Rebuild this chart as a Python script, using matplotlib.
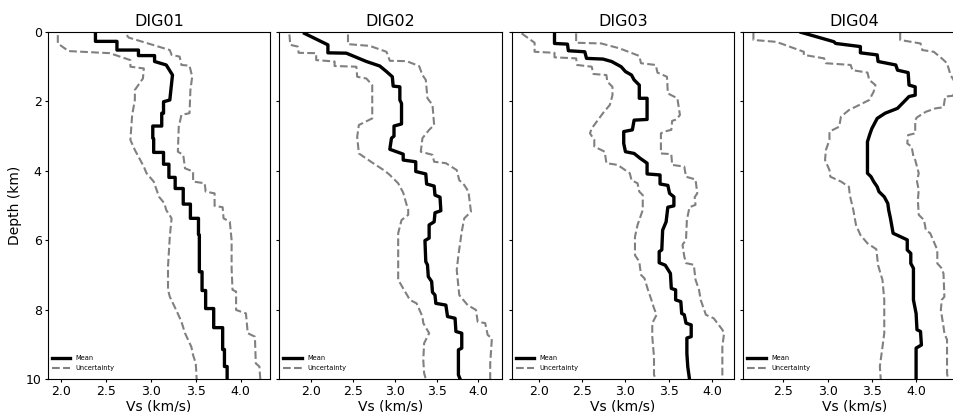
import numpy as np
import matplotlib
matplotlib.use('Agg')
import matplotlib.pyplot as plt
from matplotlib.ticker import MultipleLocator

# shear-wave velocity profiles: (depth km, Vs km/s) vertices
stations = ['DIG01', 'DIG02', 'DIG03', 'DIG04']

dig01_mean = [(0.07, 2.38), (0.27, 2.38), (0.27, 2.62), (0.52, 2.62), (0.52, 2.86), (0.68, 2.86),
              (0.68, 3.04), (0.85, 3.04), (0.95, 3.17), (1.24, 3.24), (1.96, 3.21), (2.01, 3.14),
              (2.34, 3.14), (2.34, 3.12), (2.71, 3.12), (2.71, 3.02), (3.06, 3.02), (3.08, 3.03),
              (3.47, 3.03), (3.47, 3.14), (3.81, 3.14), (3.81, 3.20), (4.19, 3.20), (4.19, 3.27),
              (4.51, 3.27), (4.51, 3.36), (4.96, 3.36), (4.96, 3.44), (5.37, 3.44), (5.37, 3.53),
              (5.83, 3.53), (5.85, 3.54), (6.91, 3.54), (6.91, 3.57), (7.45, 3.57), (7.45, 3.61),
              (7.97, 3.61), (7.97, 3.70), (8.52, 3.70), (8.52, 3.80), (9.15, 3.80), (9.15, 3.82),
              (9.64, 3.82), (9.64, 3.85), (10.0, 3.85)]
dig01_low = [(0.09, 1.96), (0.33, 1.96), (0.55, 2.08), (0.61, 2.54), (0.81, 2.77), (1.00, 2.77),
             (1.05, 2.92), (1.34, 2.91), (1.67, 2.82), (1.96, 2.82), (2.39, 2.79), (3.11, 2.77),
             (3.40, 2.82), (3.88, 2.92), (4.07, 2.95), (4.31, 3.03), (4.75, 3.09), (4.94, 3.15),
             (5.13, 3.17), (5.37, 3.23), (5.90, 3.21), (6.76, 3.19), (7.43, 3.19), (7.63, 3.21),
             (8.06, 3.29), (8.35, 3.34), (8.68, 3.38), (9.07, 3.45), (9.31, 3.47), (9.55, 3.50),
             (10.0, 3.51)]
dig01_up = [(0.09, 2.73), (0.16, 2.75), (0.52, 3.21), (0.66, 3.23), (0.71, 3.32), (0.95, 3.34),
            (0.97, 3.43), (1.29, 3.46), (1.67, 3.44), (2.34, 3.43), (2.39, 3.34), (2.73, 3.31),
            (3.45, 3.30), (3.54, 3.36), (3.93, 3.38), (4.02, 3.47), (4.31, 3.47), (4.36, 3.60),
            (4.60, 3.61), (4.65, 3.71), (5.01, 3.71), (5.05, 3.80), (5.37, 3.81), (5.47, 3.88),
            (6.00, 3.90), (6.81, 3.90), (7.43, 3.91), (7.48, 3.95), (8.01, 3.95), (8.11, 4.06),
            (8.68, 4.08), (8.78, 4.16), (9.55, 4.17), (9.64, 4.21), (10.0, 4.22)]

dig02_mean = [(0.04, 1.92), (0.37, 2.20), (0.60, 2.20), (0.61, 2.42), (0.85, 2.66), (0.98, 2.82),
              (1.14, 2.90), (1.29, 2.97), (1.56, 2.98), (1.58, 3.06), (1.96, 3.06), (2.06, 3.08),
              (2.65, 3.08), (2.71, 2.99), (3.00, 2.99), (3.06, 2.96), (3.38, 2.94), (3.45, 3.02),
              (3.52, 3.10), (3.69, 3.10), (3.74, 3.25), (4.02, 3.25), (4.09, 3.37), (4.38, 3.38),
              (4.44, 3.47), (4.70, 3.48), (4.76, 3.54), (5.15, 3.55), (5.21, 3.48), (5.47, 3.47),
              (5.56, 3.41), (5.94, 3.41), (6.01, 3.36), (6.62, 3.37), (6.71, 3.39), (7.05, 3.40),
              (7.19, 3.44), (7.50, 3.45), (7.58, 3.48), (7.82, 3.49), (7.87, 3.61), (8.20, 3.63),
              (8.25, 3.72), (8.63, 3.73), (8.68, 3.80), (9.11, 3.80), (9.16, 3.76), (9.88, 3.76),
              (10.0, 3.78)]
dig02_low = [(0.07, 1.74), (0.37, 1.75), (0.42, 1.84), (0.60, 1.85), (0.61, 2.06), (0.81, 2.06),
             (0.85, 2.28), (0.98, 2.28), (1.00, 2.54), (1.29, 2.55), (1.34, 2.66), (1.53, 2.73),
             (2.49, 2.73), (2.68, 2.57), (3.02, 2.55), (3.50, 2.57), (3.78, 2.74), (4.00, 2.88),
             (4.12, 2.94), (4.36, 3.04), (4.63, 3.10), (4.89, 3.13), (5.13, 3.16), (5.27, 3.16),
             (5.42, 3.08), (5.80, 3.04), (7.14, 3.04), (7.39, 3.10), (7.72, 3.18), (7.82, 3.26),
             (8.20, 3.33), (8.39, 3.34), (8.68, 3.41), (8.97, 3.35), (9.45, 3.34), (9.83, 3.35),
             (10.0, 3.37)]
dig02_up = [(0.07, 2.44), (0.35, 2.44), (0.40, 2.70), (0.57, 2.90), (0.83, 2.94), (0.84, 3.14),
            (0.98, 3.29), (1.24, 3.33), (1.38, 3.37), (1.91, 3.39), (2.10, 3.45), (2.68, 3.47),
            (2.82, 3.41), (3.06, 3.33), (3.45, 3.31), (3.54, 3.45), (3.74, 3.47), (3.78, 3.61),
            (3.98, 3.74), (4.27, 3.77), (4.41, 3.83), (4.60, 3.88), (5.18, 3.91), (5.37, 3.83),
            (5.75, 3.80), (6.43, 3.76), (6.86, 3.74), (7.58, 3.77), (7.87, 3.87), (8.01, 3.97),
            (8.35, 3.99), (8.39, 4.08), (8.73, 4.11), (8.83, 4.16), (9.55, 4.14), (10.0, 4.14)]

dig03_mean = [(0.04, 2.18), (0.33, 2.18), (0.35, 2.33), (0.54, 2.34), (0.57, 2.53), (0.76, 2.55),
              (0.78, 2.74), (0.85, 2.84), (1.00, 2.95), (1.14, 3.00), (1.24, 3.07), (1.38, 3.10),
              (1.53, 3.16), (1.91, 3.16), (1.91, 3.25), (2.52, 3.25), (2.54, 3.10), (2.82, 3.08),
              (2.87, 2.98), (3.21, 2.98), (3.45, 3.00), (3.50, 3.10), (3.64, 3.17), (3.78, 3.25),
              (4.09, 3.25), (4.12, 3.40), (4.38, 3.40), (4.42, 3.49), (4.65, 3.51), (4.75, 3.56),
              (5.01, 3.56), (5.05, 3.49), (5.47, 3.47), (5.71, 3.43), (6.28, 3.42), (6.33, 3.39),
              (6.65, 3.39), (6.72, 3.46), (6.96, 3.52), (7.39, 3.53), (7.43, 3.58), (7.72, 3.58),
              (7.77, 3.64), (8.11, 3.65), (8.15, 3.68), (8.39, 3.70), (8.44, 3.76), (8.78, 3.76),
              (8.82, 3.71), (9.26, 3.71), (9.64, 3.72), (10.0, 3.74)]
dig03_low = [(0.04, 1.80), (0.31, 1.95), (0.57, 1.95), (0.60, 2.18), (0.73, 2.18), (0.76, 2.43),
             (0.95, 2.44), (1.00, 2.61), (1.21, 2.63), (1.24, 2.78), (1.43, 2.79), (1.58, 2.85),
             (1.82, 2.85), (2.10, 2.82), (2.34, 2.74), (2.78, 2.61), (2.92, 2.59), (3.11, 2.64),
             (3.30, 2.64), (3.45, 2.76), (3.78, 2.78), (3.83, 2.91), (4.07, 3.05), (4.27, 3.07),
             (4.36, 3.14), (4.60, 3.16), (4.70, 3.20), (5.13, 3.20), (5.56, 3.14), (5.90, 3.11),
             (6.43, 3.11), (6.62, 3.16), (7.00, 3.18), (7.10, 3.22), (7.43, 3.26), (7.72, 3.30),
             (7.96, 3.33), (8.15, 3.36), (8.39, 3.31), (8.78, 3.31), (9.36, 3.33), (9.88, 3.33),
             (10.0, 3.35)]
dig03_up = [(0.04, 2.43), (0.31, 2.43), (0.33, 2.72), (0.47, 2.93), (0.69, 3.16), (0.90, 3.18),
            (0.95, 3.35), (1.17, 3.37), (1.29, 3.48), (1.77, 3.49), (1.91, 3.60), (2.39, 3.63),
            (2.52, 3.59), (2.56, 3.54), (2.82, 3.53), (2.87, 3.45), (2.92, 3.41), (3.50, 3.41),
            (3.52, 3.53), (3.83, 3.54), (3.88, 3.68), (4.17, 3.70), (4.25, 3.81), (4.65, 3.83),
            (4.76, 3.80), (4.98, 3.81), (5.05, 3.74), (5.42, 3.71), (5.99, 3.70), (6.13, 3.66),
            (6.47, 3.68), (6.66, 3.70), (6.71, 3.79), (7.14, 3.81), (7.43, 3.85), (7.72, 3.87),
            (8.01, 3.91), (8.15, 3.93), (8.25, 4.02), (8.58, 4.12), (8.68, 4.14), (9.07, 4.12),
            (10.0, 4.12)]

dig04_mean = [(0.01, 2.70), (0.28, 3.07), (0.33, 3.09), (0.42, 3.37), (0.60, 3.37), (0.66, 3.56),
              (0.85, 3.57), (0.95, 3.77), (1.10, 3.79), (1.17, 3.91), (1.53, 3.92), (1.58, 3.99),
              (1.82, 3.99), (1.86, 3.92), (2.20, 3.79), (2.34, 3.65), (2.49, 3.56), (2.78, 3.50),
              (2.92, 3.48), (3.16, 3.45), (4.07, 3.45), (4.17, 3.49), (4.31, 3.52), (4.46, 3.56),
              (4.60, 3.58), (4.75, 3.64), (4.94, 3.68), (5.13, 3.69), (5.37, 3.71), (5.80, 3.74),
              (5.99, 3.90), (6.28, 3.90), (6.38, 3.94), (6.67, 3.94), (6.81, 3.97), (7.72, 3.97),
              (8.11, 4.00), (8.58, 4.01), (8.63, 4.05), (9.02, 4.06), (9.11, 4.00), (10.0, 4.00)]
dig04_low = [(0.01, 2.16), (0.23, 2.16), (0.28, 2.40), (0.33, 2.47), (0.57, 2.73), (0.66, 2.73),
             (0.76, 2.96), (0.90, 2.98), (0.95, 3.26), (1.10, 3.28), (1.17, 3.45), (1.38, 3.47),
             (1.53, 3.54), (1.72, 3.52), (1.96, 3.47), (2.25, 3.24), (2.44, 3.15), (2.73, 3.13),
             (2.87, 3.02), (3.11, 3.02), (3.40, 2.98), (3.69, 2.97), (3.98, 3.02), (4.17, 3.03),
             (4.31, 3.15), (4.46, 3.24), (4.70, 3.25), (5.13, 3.29), (5.56, 3.32), (5.85, 3.37),
             (6.09, 3.45), (6.26, 3.55), (6.72, 3.57), (7.15, 3.62), (7.72, 3.64), (8.68, 3.64),
             (9.07, 3.62), (9.64, 3.59), (10.0, 3.60)]
dig04_up = [(0.02, 3.82), (0.23, 3.82), (0.33, 4.05), (0.52, 4.07), (0.57, 4.20), (0.76, 4.29),
            (0.90, 4.35), (1.24, 4.39), (1.45, 4.44), (1.75, 4.45), (1.84, 4.41), (1.86, 4.33),
            (2.17, 4.31), (2.20, 4.22), (2.30, 4.11), (2.46, 4.01), (2.54, 3.99), (2.92, 3.99),
            (2.97, 3.91), (3.21, 3.90), (3.31, 3.95), (3.59, 3.97), (3.69, 3.99), (4.07, 4.03),
            (4.31, 4.01), (4.55, 4.03), (4.84, 4.02), (5.27, 4.03), (5.42, 4.09), (5.71, 4.11),
            (5.80, 4.16), (6.04, 4.20), (6.28, 4.24), (6.67, 4.24), (6.81, 4.29), (6.96, 4.31),
            (7.63, 4.32), (7.72, 4.29), (8.01, 4.28), (8.49, 4.31), (8.68, 4.32), (8.87, 4.35),
            (9.83, 4.35), (10.0, 4.36)]

profiles = [(dig01_mean, dig01_low, dig01_up),
            (dig02_mean, dig02_low, dig02_up),
            (dig03_mean, dig03_low, dig03_up),
            (dig04_mean, dig04_low, dig04_up)]

W, H = 954, 412
fig = plt.figure(figsize=(W / 100, H / 100), dpi=100)

lefts = [47.7, 279.3, 511.5, 743.3]
for i, (name, (mean, low, up)) in enumerate(zip(stations, profiles)):
    ax = fig.add_axes([lefts[i] / W, 33 / H, 222.7 / W, 347 / H])
    m = np.array(mean)
    lo = np.array(low)
    hi = np.array(up)
    ax.plot(m[:, 1], m[:, 0], color='black', lw=2.4, label='Mean')
    ax.plot(lo[:, 1], lo[:, 0], color='gray', lw=1.5, ls='--', label='Uncertainty')
    ax.plot(hi[:, 1], hi[:, 0], color='gray', lw=1.5, ls='--')
    ax.set_ylim(10, 0)
    ax.set_yticks([0, 2, 4, 6, 8, 10])
    if i == 3:
        ax.set_xticks([2.5, 3.0, 3.5, 4.0])
    else:
        ax.xaxis.set_major_locator(MultipleLocator(0.5))
    ax.tick_params(labelsize=9, length=2.5, pad=1.8)
    ax.set_xlabel('Vs (km/s)', fontsize=10, labelpad=1)
    ax.set_title(name, fontsize=11.5, pad=4)
    if i == 0:
        ax.set_ylabel('Depth (km)', fontsize=10, labelpad=3)
    else:
        ax.tick_params(labelleft=False)
    ax.legend(loc='lower left', bbox_to_anchor=(0.0, 0.012), fontsize=4.8, frameon=False,
              handlelength=2.8, labelspacing=0.55, borderaxespad=0.2)

fig.savefig('out.png', dpi=100)
